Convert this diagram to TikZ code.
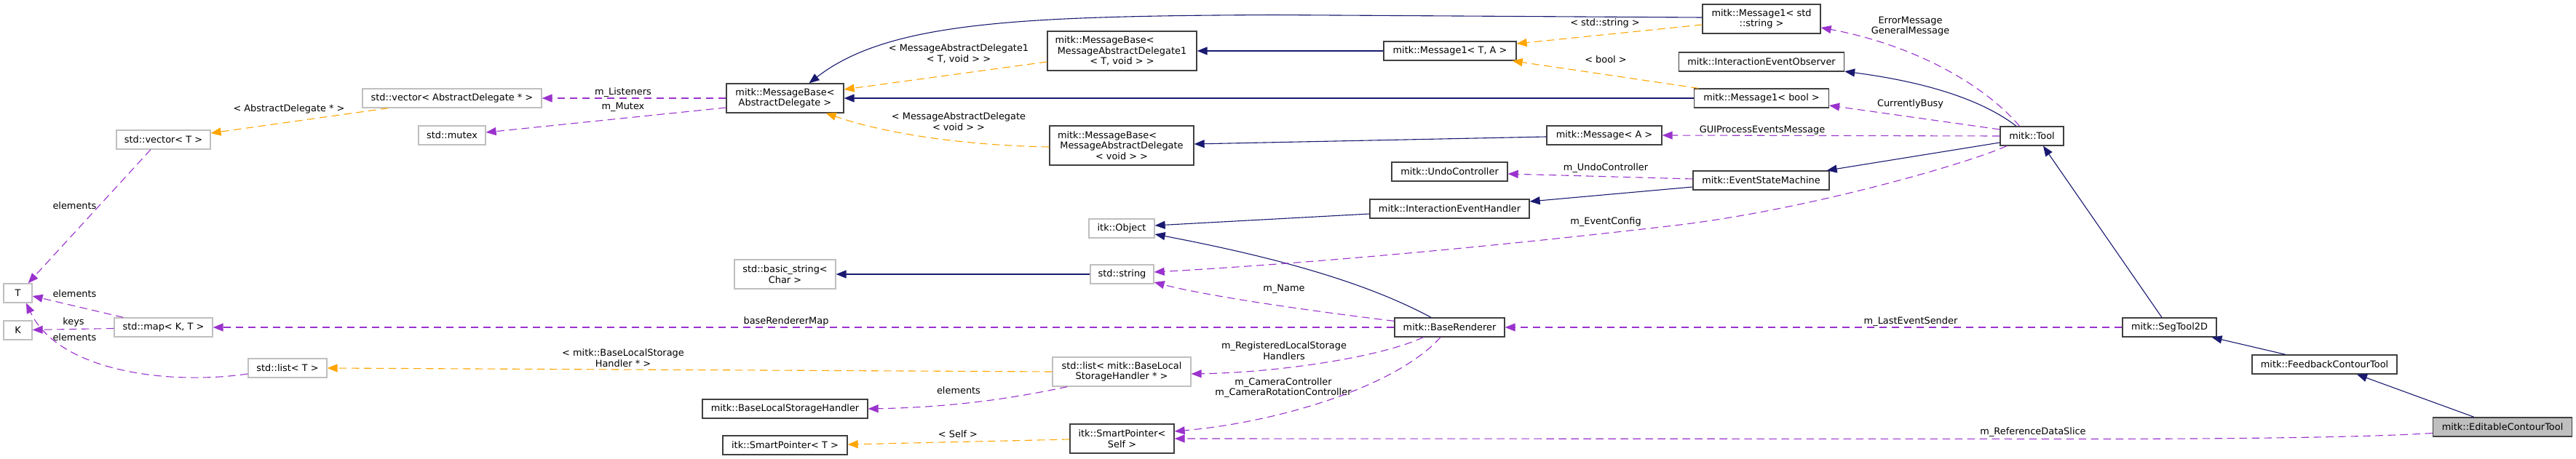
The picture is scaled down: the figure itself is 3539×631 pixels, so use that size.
\documentclass[tikz,border=0pt]{standalone}
\usepackage{fontspec}
\newfontfamily\dv{DejaVu Sans}
\usetikzlibrary{arrows.meta,calc}
\definecolor{navy}{HTML}{191970}
\definecolor{mpurple}{HTML}{9A32CD}
\definecolor{morange}{HTML}{FFA500}
\definecolor{darkb}{HTML}{404040}
\definecolor{lightb}{HTML}{BFBFBF}
\begin{document}
\begin{tikzpicture}[x=1pt,y=-1pt,
  font=\dv\fontsize{12.9}{14.5}\selectfont,
  box/.style={draw,inner sep=0pt,align=center,line width=1.3pt,fill=white},
  dbox/.style={box,draw=darkb},
  lbox/.style={box,draw=lightb},
  lbl/.style={inner sep=0pt,align=center},
  inh/.style={draw=navy,line width=1.1pt,-{Triangle[length=14pt,width=11pt]}},
  tmpl/.style={draw=morange,line width=1.1pt,dash pattern=on 10.5pt off 6.5pt,-{Triangle[length=14pt,width=11pt]}},
  memb/.style={draw=mpurple,line width=1.1pt,dash pattern=on 10.5pt off 6.5pt,-{Triangle[length=14pt,width=11pt]}}]
\useasboundingbox (0,0) rectangle (3539,631);
% nodes
\node[lbox,minimum width=39pt,minimum height=26pt] (T) at (24.5,403) {T};
\node[lbox,minimum width=39pt,minimum height=26pt] (K) at (24.5,454) {K};
\node[lbox,minimum width=129pt,minimum height=26pt] (vecT) at (224.5,192) {std::vector< T >};
\node[lbox,minimum width=135pt,minimum height=26pt] (mapKT) at (224.5,450) {std::map< K, T >};
\node[lbox,minimum width=108pt,minimum height=26pt] (listT) at (395,506) {std::list< T >};
\node[lbox,minimum width=246pt,minimum height=26pt] (vecAD) at (621,135) {std::vector< AbstractDelegate * >};
\node[lbox,minimum width=92pt,minimum height=26pt] (mutex) at (621,186) {std::mutex};
\node[dbox,minimum width=161pt,minimum height=40pt] (MBAD) at (1078.5,135) {mitk::MessageBase<\\AbstractDelegate >};
\node[lbox,minimum width=139pt,minimum height=40pt] (basicstr) at (1078.5,377) {std::basic\_string<\\Char >};
\node[dbox,minimum width=227pt,minimum height=26pt] (BLSH) at (1078.5,562) {mitk::BaseLocalStorageHandler};
\node[dbox,minimum width=171pt,minimum height=26pt] (SPT) at (1078.5,612) {itk::SmartPointer< T >};
\node[dbox,minimum width=205pt,minimum height=54pt] (MBMAD1) at (1541.5,70) {\makebox[184pt][l]{mitk::MessageBase<}\\MessageAbstractDelegate1\\< T, void > >};
\node[dbox,minimum width=198pt,minimum height=54pt] (MBMADv) at (1541,200) {\makebox[176pt][l]{mitk::MessageBase<}\\MessageAbstractDelegate\\< void > >};
\node[lbox,minimum width=90pt,minimum height=26pt] (itkObject) at (1541,314) {itk::Object};
\node[lbox,minimum width=87pt,minimum height=26pt] (stdstring) at (1541.5,377) {std::string};
\node[lbox,minimum width=190pt,minimum height=40pt] (listBLSH) at (1541,511) {std::list< mitk::BaseLocal\\StorageHandler * >};
\node[dbox,minimum width=143pt,minimum height=40pt] (SPSelf) at (1541.5,603) {itk::SmartPointer<\\Self >};
\node[dbox,minimum width=182pt,minimum height=26pt] (Msg1TA) at (1992,70) {mitk::Message1< T, A >};
\node[dbox,minimum width=158pt,minimum height=26pt] (MsgA) at (2204,186) {mitk::Message< A >};
\node[dbox,minimum width=159pt,minimum height=26pt] (Undo) at (1991.5,236) {mitk::UndoController};
\node[dbox,minimum width=219pt,minimum height=26pt] (IEH) at (1991.5,287) {mitk::InteractionEventHandler};
\node[dbox,minimum width=151pt,minimum height=26pt] (BR) at (1991.5,450) {mitk::BaseRenderer};
\node[dbox,minimum width=162pt,minimum height=40pt] (Msg1Str) at (2420,26) {mitk::Message1< std\\::string >};
\node[dbox,minimum width=227pt,minimum height=26pt] (IEO) at (2420,85) {mitk::InteractionEventObserver};
\node[dbox,minimum width=185pt,minimum height=26pt] (Msg1Bool) at (2420,135) {mitk::Message1< bool >};
\node[dbox,minimum width=187pt,minimum height=26pt] (ESM) at (2419.5,248) {mitk::EventStateMachine};
\node[dbox,minimum width=87pt,minimum height=26pt] (Tool) at (2791.5,187) {mitk::Tool};
\node[dbox,minimum width=129pt,minimum height=26pt] (Seg) at (2980.5,450) {mitk::SegTool2D};
\node[dbox,minimum width=199pt,minimum height=26pt] (FCT) at (3193.5,501) {mitk::FeedbackContourTool};
\node[dbox,fill=lightb,minimum width=191pt,minimum height=26pt] (ECT) at (3438,587) {mitk::EditableContourTool};
% labels
\node[lbl] (lAD) at (397,150) {< AbstractDelegate * >};
\node[lbl] (lel1) at (102.5,282.5) {elements};
\node[lbl] (lel2) at (102.5,404) {elements};
\node[lbl] (lkeys) at (101,443) {keys};
\node[lbl] (lel3) at (102.5,464) {elements};
\node[lbl] (lList) at (856,127) {m\_Listeners};
\node[lbl] (lMut) at (856,147) {m\_Mutex};
\node[lbl] (lMAD1) at (1317,74) {< MessageAbstractDelegate1\\< T, void > >};
\node[lbl] (lMADv) at (1317,167) {< MessageAbstractDelegate\\< void > >};
\node[lbl] (lBRM) at (1080,442) {baseRendererMap};
\node[lbl] (lBLS) at (856,492) {< mitk::BaseLocalStorage\\Handler * >};
\node[lbl] (lel4) at (1317,537) {elements};
\node[lbl] (lSelf) at (1316,597) {< Self >};
\node[lbl] (lName) at (1764,397) {m\_Name};
\node[lbl] (lReg) at (1764,482) {m\_RegisteredLocalStorage\\Handlers};
\node[lbl] (lCam) at (1763,533) {m\_CameraController\\m\_CameraRotationController};
\node[lbl] (lStd) at (2205,32) {< std::string >};
\node[lbl] (lBool) at (2206,82) {< bool >};
\node[lbl] (lUndo) at (2206,231) {m\_UndoController};
\node[lbl] (lEvC) at (2206,305) {m\_EventConfig};
\node[lbl] (lErr) at (2624.5,36) {ErrorMessage\\GeneralMessage};
\node[lbl] (lBusy) at (2624.5,143) {CurrentlyBusy};
\node[lbl] (lGUI) at (2421,179) {GUIProcessEventsMessage};
\node[lbl] (lLast) at (2625,442) {m\_LastEventSender};
\node[lbl] (lRef) at (2793,594) {m\_ReferenceDataSlice};
% inheritance
\draw[inh] ($(Msg1Str.west)+(0,-2)$) -- (1750,20.5) .. controls (1400,22) and (1220,30) .. ($(MBAD.north)+(33,0)$);
\draw[inh] (Msg1Bool.west) -- (MBAD.east);
\draw[inh] (Msg1TA.west) -- (MBMAD1.east);
\draw[inh] ($(MsgA.west)+(0,2)$) -- ($(MBMADv.east)+(0,-2)$);
\draw[inh] ($(Tool.north)+(-21.5,0)$) .. controls (2720,135) and (2640,112) .. ($(IEO.south east)+(0,-0.5)$);
\draw[inh] ($(Tool.west)+(0,9)$) -- ($(ESM.north east)+(-4,0)$);
\draw[inh] ($(ESM.west)+(0,9)$) -- ($(IEH.east)+(0,-10)$);
\draw[inh] ($(IEH.west)+(0,7)$) -- ($(itkObject.east)+(0,-4)$);
\draw[inh] ($(BR.north)+(-25.5,0)$) .. controls (1880,390) and (1760,355) .. ($(itkObject.east)+(0,8)$);
\draw[inh] (stdstring.west) -- (basicstr.east);
\draw[inh] ($(Seg.north)+(-10.5,0)$) -- ($(Tool.south)+(15.5,0)$);
\draw[inh] ($(FCT.north)+(-53.5,0)$) -- ($(Seg.south)+(58,0)$);
\draw[inh] ($(ECT.north)+(-39,0)$) -- ($(FCT.south)+(44.5,0)$);
% template instances
\draw[tmpl] ($(vecAD.south west)+(36,0)$) -- ($(vecT.east)+(0,-9)$);
\draw[tmpl] ($(MBMAD1.west)+(0,15)$) -- ($(MBAD.east)+(0,-12)$);
\draw[tmpl] ($(MBMADv.west)+(0,2)$) .. controls (1330,200) and (1220,185) .. ($(MBAD.south east)+(-25,0)$);
\draw[tmpl] ($(Msg1Str.west)+(0,8)$) -- ($(Msg1TA.east)+(0,-10)$);
\draw[tmpl] ($(Msg1Bool.north west)+(6.5,0)$) -- ($(Msg1TA.south east)+(-6,0)$);
\draw[tmpl] (listBLSH.west) -- (listT.east);
\draw[tmpl] ($(SPSelf.west)+(0,1)$) -- ($(SPT.east)+(0,-1)$);
% members
\draw[memb] ($(vecT.south)+(-17.5,0)$) -- ($(T.north east)+(-6,0)$);
\draw[memb] ($(mapKT.north west)+(13,0)$) -- ($(T.east)+(0,4)$);
\draw[memb] ($(mapKT.west)+(0,1.5)$) -- ($(K.east)+(0,-0.5)$);
\draw[memb] ($(listT.west)+(0,8)$) .. controls (230,530) and (80,510) .. ($(T.south)+(11.5,0)$);
\draw[memb] (MBAD.west) -- (vecAD.east);
\draw[memb] ($(MBAD.west)+(0,13)$) -- ($(mutex.east)+(0,-4)$);
\draw[memb] (BR.west) -- (mapKT.east);
\draw[memb] ($(listBLSH.south west)+(21,0)$) .. controls (1380,550) and (1300,560) .. (BLSH.east);
\draw[memb] ($(BR.north west)+(0,5)$) .. controls (1780,425) and (1650,405) .. ($(stdstring.east)+(0,11)$);
\draw[memb] ($(Tool.south)+(-34.5,0)$) .. controls (2700,226) and (2480,289) .. (2300,310) .. controls (2000,345) and (1750,365) .. ($(stdstring.east)+(0,-3)$);
\draw[memb] ($(BR.south west)+(40,0)$) .. controls (1900,490) and (1760,512) .. ($(listBLSH.east)+(0,3)$);
\draw[memb] ($(BR.south)+(-12.5,0)$) .. controls (1920,530) and (1760,580) .. ($(SPSelf.east)+(0,-10)$);
\draw[memb] ($(ESM.west)+(0,-2)$) -- ($(Undo.east)+(0,3)$);
\draw[memb] ($(Tool.north)+(-17,0)$) .. controls (2720,110) and (2620,60) .. ($(Msg1Str.east)+(0,12)$);
\draw[memb] ($(Tool.west)+(0,-9)$) -- ($(Msg1Bool.east)+(0,10)$);
\draw[memb] (Tool.west) -- (MsgA.east);
\draw[memb] (Seg.west) -- (BR.east);
\draw[memb] ($(ECT.west)+(0,8.5)$) .. controls (3250,601) and (3100,603) .. (2900,603.5) -- (SPSelf.east);
\end{tikzpicture}
\end{document}
